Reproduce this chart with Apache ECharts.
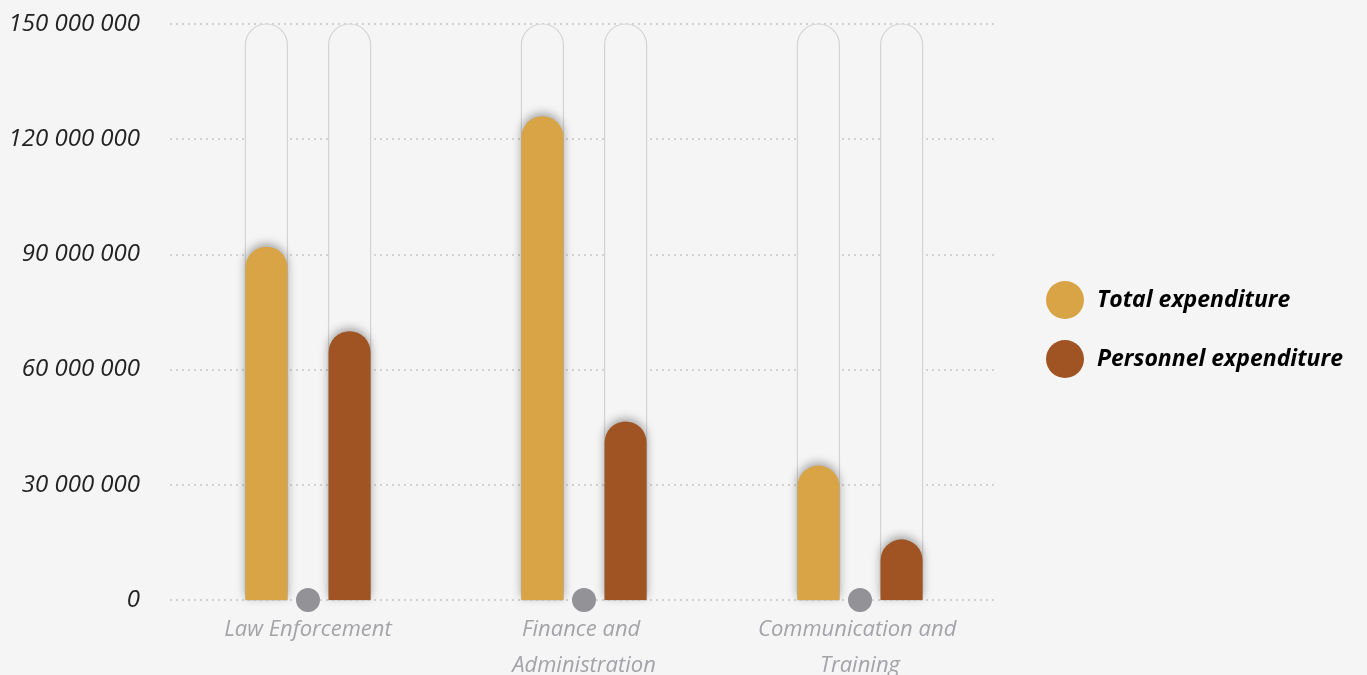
<!DOCTYPE html>
<html>
<head>
<meta charset="utf-8">
<script src="https://cdn.jsdelivr.net/npm/echarts@6/dist/echarts.min.js"></script>
<style>
  html, body { margin: 0; padding: 0; background: #f5f5f5; }
  #chart { width: 1367px; height: 675px; }
</style>
</head>
<body>
<div id="chart"></div>
<script>
const categories = ['Law Enforcement', 'Finance and Administration', 'Communication and Training'];
const totalExpenditure = [92000000, 126000000, 35000000];
const personnelExpenditure = [70000000, 46500000, 15800000];
const markerBase = [0, 0, 0];
const seriesNames = ['Total expenditure', 'Personnel expenditure'];

const chart = echarts.init(document.getElementById('chart'));

const fmt = v => String(v).replace(/\B(?=(\d{3})+(?!\d))/g, ' ');

const barCommon = {
  type: 'bar',
  barWidth: 42,
  barGap: '98%',
  showBackground: true,
  backgroundStyle: {
    color: '#f5f5f5',
    borderColor: '#d4d4d4',
    borderWidth: 1.2,
    borderRadius: [21, 21, 0, 0]
  }
};

chart.setOption({
  backgroundColor: '#f5f5f5',
  animation: false,
  grid: { left: 170, right: 369, top: 24, bottom: 75, outerBoundsMode: 'none', containLabel: false },
  legend: {
    orient: 'vertical',
    left: 1046,
    top: 281,
    padding: 0,
    icon: 'circle',
    itemWidth: 38,
    itemHeight: 38,
    itemGap: 21,
    data: seriesNames,
    textStyle: {
      fontFamily: 'Open Sans',
      fontSize: 23,
      fontWeight: 'bold',
      fontStyle: 'italic',
      color: '#000',
      padding: [0, 0, 0, 8]
    }
  },
  xAxis: {
    type: 'category',
    data: categories,
    axisLine: { show: false },
    axisTick: { show: false },
    axisLabel: {
      interval: 0,
      margin: 12,
      fontFamily: 'Open Sans',
      fontSize: 22,
      fontStyle: 'italic',
      color: '#a3a3a8',
      width: 240,
      overflow: 'break',
      lineHeight: 36
    }
  },
  yAxis: {
    type: 'value',
    min: 0,
    max: 150000000,
    interval: 30000000,
    axisLine: { show: false },
    axisTick: { show: false },
    axisLabel: {
      margin: 30,
      fontFamily: 'Open Sans',
      fontSize: 24,
      fontStyle: 'italic',
      color: '#222',
      formatter: fmt
    },
    splitLine: {
      lineStyle: { type: [2, 4], width: 2, color: '#d2d2d2' }
    }
  },
  series: [
    Object.assign({}, barCommon, {
      name: seriesNames[0],
      data: totalExpenditure,
      itemStyle: {
        color: '#d8a446',
        borderRadius: [21, 21, 0, 0],
        shadowBlur: 10,
        shadowOffsetY: -3,
        shadowColor: 'rgba(0,0,0,0.35)'
      }
    }),
    Object.assign({}, barCommon, {
      name: seriesNames[1],
      data: personnelExpenditure,
      itemStyle: {
        color: '#a05423',
        borderRadius: [21, 21, 0, 0],
        shadowBlur: 10,
        shadowOffsetY: -3,
        shadowColor: 'rgba(0,0,0,0.35)'
      }
    }),
    {
      type: 'scatter',
      data: markerBase,
      symbol: 'circle',
      symbolSize: 24,
      itemStyle: { color: '#929297', opacity: 1 },
      z: 5,
      silent: true
    }
  ]
});
</script>
</body>
</html>
